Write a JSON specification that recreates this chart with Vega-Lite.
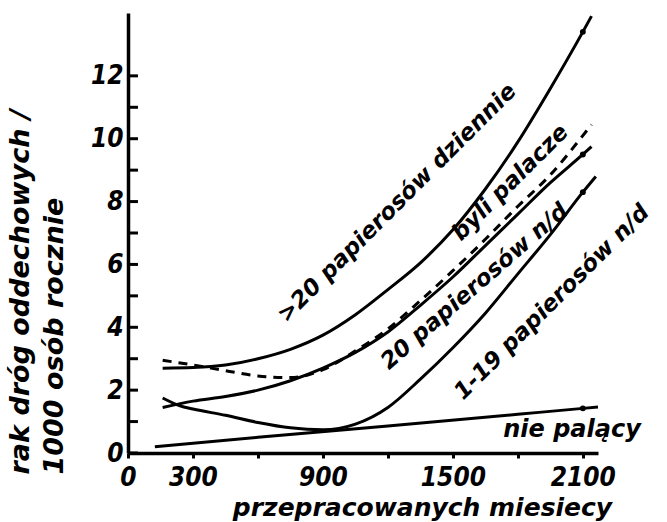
{
  "$schema": "https://vega.github.io/schema/vega-lite/v6.json",
  "width": 470,
  "height": 440,
  "autosize": {"type": "none"},
  "padding": {"left": 128, "top": 13, "right": 69, "bottom": 69},
  "background": "white",
  "config": {
    "view": {"stroke": null},
    "font": "DejaVu Sans",
    "axis": {
      "grid": false,
      "domainColor": "black",
      "domainWidth": 3.5,
      "tickColor": "black",
      "tickWidth": 3,
      "labelColor": "black",
      "labelFont": "DejaVu Sans Condensed, DejaVu Sans",
      "labelFontStyle": "italic",
      "labelFontWeight": "bold",
      "labelFontSize": 26,
      "titleColor": "black",
      "titleFont": "DejaVu Sans",
      "titleFontStyle": "italic",
      "titleFontWeight": "bold",
      "titleFontSize": 24
    }
  },
  "datasets": {
    "curves": [
      {"series": ">20", "x": 160, "y": 2.7},
      {"series": ">20", "x": 300, "y": 2.72},
      {"series": ">20", "x": 450, "y": 2.8},
      {"series": ">20", "x": 600, "y": 3.0},
      {"series": ">20", "x": 750, "y": 3.3},
      {"series": ">20", "x": 900, "y": 3.75},
      {"series": ">20", "x": 1050, "y": 4.4},
      {"series": ">20", "x": 1200, "y": 5.2},
      {"series": ">20", "x": 1350, "y": 6.05},
      {"series": ">20", "x": 1500, "y": 7.1},
      {"series": ">20", "x": 1650, "y": 8.4},
      {"series": ">20", "x": 1800, "y": 9.9},
      {"series": ">20", "x": 1950, "y": 11.6},
      {"series": ">20", "x": 2100, "y": 13.4},
      {"series": ">20", "x": 2140, "y": 13.9},
      {"series": "byli", "x": 160, "y": 2.95},
      {"series": "byli", "x": 300, "y": 2.8},
      {"series": "byli", "x": 450, "y": 2.62},
      {"series": "byli", "x": 600, "y": 2.45},
      {"series": "byli", "x": 750, "y": 2.4},
      {"series": "byli", "x": 900, "y": 2.65},
      {"series": "byli", "x": 1050, "y": 3.25},
      {"series": "byli", "x": 1200, "y": 3.95},
      {"series": "byli", "x": 1350, "y": 4.85},
      {"series": "byli", "x": 1500, "y": 5.8},
      {"series": "byli", "x": 1650, "y": 6.8},
      {"series": "byli", "x": 1800, "y": 7.85},
      {"series": "byli", "x": 1950, "y": 8.85},
      {"series": "byli", "x": 2100, "y": 10.1},
      {"series": "byli", "x": 2140, "y": 10.45},
      {"series": "20", "x": 160, "y": 1.45},
      {"series": "20", "x": 300, "y": 1.65},
      {"series": "20", "x": 450, "y": 1.8},
      {"series": "20", "x": 600, "y": 2.0},
      {"series": "20", "x": 750, "y": 2.3},
      {"series": "20", "x": 900, "y": 2.7},
      {"series": "20", "x": 1050, "y": 3.2},
      {"series": "20", "x": 1200, "y": 3.85},
      {"series": "20", "x": 1350, "y": 4.7},
      {"series": "20", "x": 1500, "y": 5.6},
      {"series": "20", "x": 1650, "y": 6.6},
      {"series": "20", "x": 1800, "y": 7.6},
      {"series": "20", "x": 1950, "y": 8.6},
      {"series": "20", "x": 2100, "y": 9.5},
      {"series": "20", "x": 2140, "y": 9.75},
      {"series": "1-19", "x": 160, "y": 1.75},
      {"series": "1-19", "x": 240, "y": 1.5},
      {"series": "1-19", "x": 300, "y": 1.4},
      {"series": "1-19", "x": 450, "y": 1.2},
      {"series": "1-19", "x": 600, "y": 0.97},
      {"series": "1-19", "x": 750, "y": 0.8},
      {"series": "1-19", "x": 900, "y": 0.74},
      {"series": "1-19", "x": 1050, "y": 0.92},
      {"series": "1-19", "x": 1200, "y": 1.45},
      {"series": "1-19", "x": 1350, "y": 2.35},
      {"series": "1-19", "x": 1500, "y": 3.35},
      {"series": "1-19", "x": 1650, "y": 4.45},
      {"series": "1-19", "x": 1800, "y": 5.7},
      {"series": "1-19", "x": 1950, "y": 6.95},
      {"series": "1-19", "x": 2100, "y": 8.3},
      {"series": "1-19", "x": 2160, "y": 8.8},
      {"series": "nie", "x": 124, "y": 0.2},
      {"series": "nie", "x": 600, "y": 0.5},
      {"series": "nie", "x": 1200, "y": 0.86},
      {"series": "nie", "x": 1800, "y": 1.23},
      {"series": "nie", "x": 2100, "y": 1.42},
      {"series": "nie", "x": 2170, "y": 1.46}
    ],
    "yticks": [
      {"v": 0}, {"v": 1}, {"v": 2}, {"v": 3}, {"v": 4}, {"v": 5}, {"v": 6},
      {"v": 7}, {"v": 8}, {"v": 9}, {"v": 10}, {"v": 11}, {"v": 12}
    ],
    "diag": [
      {"text": ">20 papierosów dziennie", "x": 1242, "y": 7.95},
      {"text": "byli palacze", "x": 1765, "y": 8.6},
      {"text": "1-19 papierosów n/d", "x": 1957, "y": 4.8}
    ],
    "diag2": [
      {"text": "20 papierosów n/d", "x": 1600, "y": 5.3}
    ],
    "flat": [
      {"text": "nie palący", "x": 2050, "y": 0.73}
    ]
  },
  "layer": [
    {
      "data": {"name": "curves"},
      "transform": [{"filter": "datum.series !== 'byli'"}],
      "mark": {"type": "line", "interpolate": "monotone", "color": "black", "strokeWidth": 3},
      "encoding": {
        "x": {
          "field": "x", "type": "quantitative",
          "scale": {"domain": [0, 2170], "nice": false, "zero": false},
          "axis": {
            "title": "przepracowanych miesiecy",
            "values": [0, 300, 600, 900, 1200, 1500, 1800, 2100],
            "format": "d",
            "labelExpr": "indexof([0, 300, 900, 1500, 2100], datum.value) >= 0 ? datum.label : ''",
            "tickSize": 5,
            "labelPadding": 6,
            "labelFlush": false,
            "labelOverlap": false,
            "titleAnchor": null,
            "titleX": 294,
            "titleY": 54,
            "titleBaseline": "middle",
            "titleAlign": "center",
            "titleFontSize": 25
          }
        },
        "y": {
          "field": "y", "type": "quantitative",
          "scale": {"domain": [0, 14], "nice": false},
          "axis": {
            "title": ["rak dróg oddechowych /", "1000 osób rocznie"],
            "values": [0, 2, 4, 6, 8, 10, 12],
            "ticks": false,
            "labelPadding": 5,
            "labelFlush": false,
            "labelOverlap": false,
            "titleAnchor": null,
            "titleAngle": -90,
            "titleAlign": "left",
            "titleBaseline": "top",
            "titleX": -121,
            "titleY": 461,
            "titleFontSize": 27,
            "titleLineHeight": 34
          }
        },
        "detail": {"field": "series"}
      }
    },
    {
      "data": {"name": "yticks"},
      "mark": {"type": "rule", "color": "black", "strokeWidth": 3},
      "encoding": {
        "y": {"field": "v", "type": "quantitative"},
        "x": {"datum": 0},
        "x2": {"datum": 46}
      }
    },
    {
      "data": {"name": "curves"},
      "transform": [{"filter": "datum.series === 'byli'"}],
      "mark": {"type": "line", "interpolate": "monotone", "color": "black", "strokeWidth": 3, "strokeDash": [9, 7]},
      "encoding": {
        "x": {"field": "x", "type": "quantitative"},
        "y": {"field": "y", "type": "quantitative"}
      }
    },
    {
      "data": {"name": "curves"},
      "transform": [{"filter": "datum.x === 2100 && datum.series !== 'byli'"}],
      "mark": {"type": "point", "filled": true, "color": "black", "size": 35, "opacity": 1},
      "encoding": {
        "x": {"field": "x", "type": "quantitative"},
        "y": {"field": "y", "type": "quantitative"}
      }
    },
    {
      "data": {"name": "diag"},
      "mark": {"type": "text", "angle": -45, "font": "DejaVu Sans", "fontStyle": "italic", "fontWeight": "bold", "fontSize": 23, "color": "black", "align": "center", "baseline": "middle"},
      "encoding": {
        "x": {"field": "x", "type": "quantitative"},
        "y": {"field": "y", "type": "quantitative"},
        "text": {"field": "text"}
      }
    },
    {
      "data": {"name": "diag2"},
      "mark": {"type": "text", "angle": -41, "font": "DejaVu Sans", "fontStyle": "italic", "fontWeight": "bold", "fontSize": 23, "color": "black", "align": "center", "baseline": "middle"},
      "encoding": {
        "x": {"field": "x", "type": "quantitative"},
        "y": {"field": "y", "type": "quantitative"},
        "text": {"field": "text"}
      }
    },
    {
      "data": {"name": "flat"},
      "mark": {"type": "text", "font": "DejaVu Sans", "fontStyle": "italic", "fontWeight": "bold", "fontSize": 24, "color": "black", "align": "center", "baseline": "middle"},
      "encoding": {
        "x": {"field": "x", "type": "quantitative"},
        "y": {"field": "y", "type": "quantitative"},
        "text": {"field": "text"}
      }
    }
  ]
}
